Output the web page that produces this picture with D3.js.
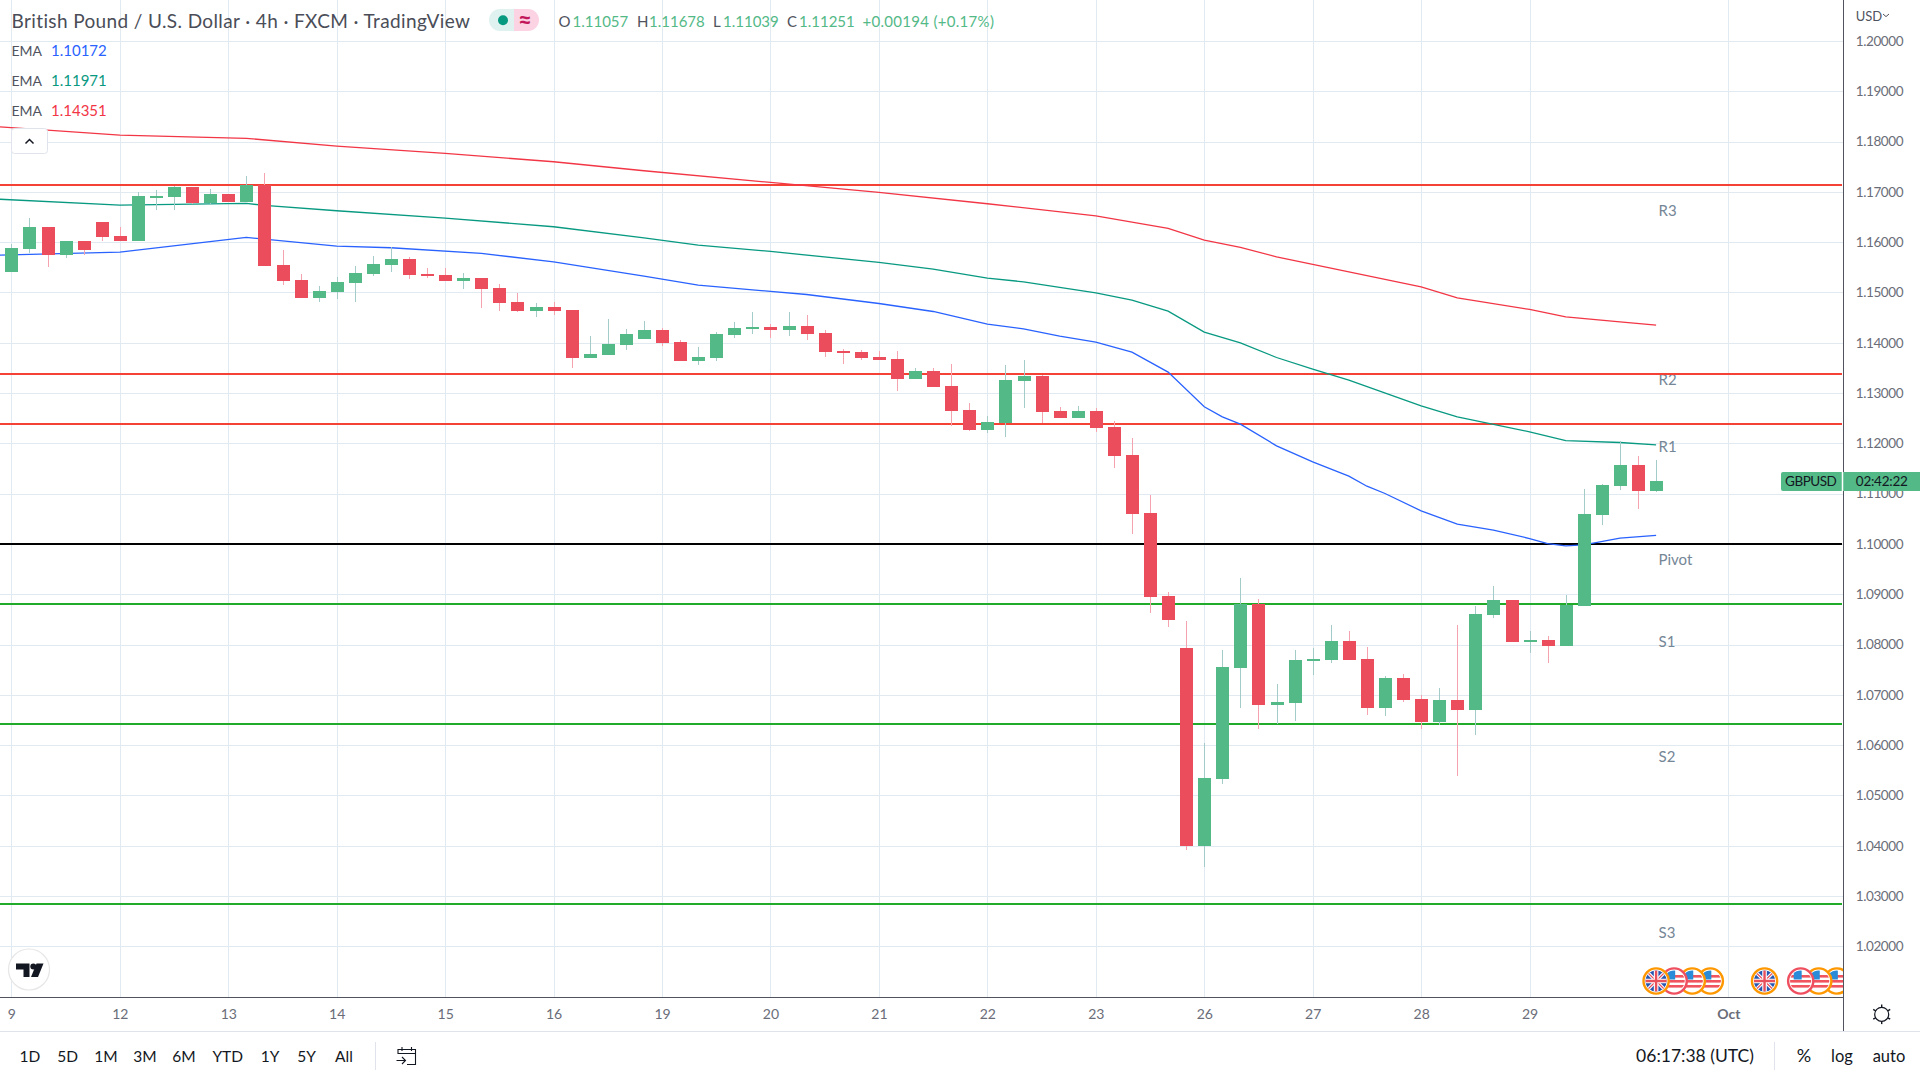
<!DOCTYPE html>
<html>
<head>
<meta charset="utf-8">
<script src="https://cdn.jsdelivr.net/npm/d3@7"></script>
<style>
	html, body { margin: 0; padding: 0; background: #fff; }
	svg { display: block; font-family: Lato, "Open Sans", sans-serif; }
</style>
</head>
<body>
<svg id="chart" width="1920" height="1080"></svg>
<script>
// candles
const opens = [1.15412,1.15869,1.16300,1.15743,1.16022,1.16399,1.16121,1.16022,1.16897,1.16897,
	1.17096,1.16777,1.16956,1.16797,1.17135,1.15544,1.15246,1.14888,1.15007,1.15186,
	1.15365,1.15544,1.15663,1.15365,1.15345,1.15226,1.15286,1.15087,1.14808,1.14629,
	1.14709,1.14649,1.13695,1.13754,1.13953,1.14073,1.14252,1.14013,1.13635,1.13695,
	1.14152,1.14272,1.14312,1.14252,1.14331,1.14192,1.13834,1.13814,1.13715,1.13675,
	1.13277,1.13436,1.13138,1.12661,1.12263,1.12402,1.13238,1.13337,1.12641,1.12502,
	1.12641,1.12322,1.11765,1.10611,1.08961,1.07926,1.03988,1.05321,1.07528,1.08801,
	1.06793,1.06832,1.07668,1.07688,1.08066,1.07707,1.06733,1.07330,1.06912,1.06454,
	1.06892,1.06693,1.08583,1.08881,1.08046,1.08085,1.07966,1.08762,1.10572,1.11148,
	1.11566,1.11057];
const highs = [1.15955,1.16479,1.16300,1.16022,1.16022,1.16399,1.16300,1.16996,1.17036,1.17115,
	1.17096,1.17056,1.16956,1.17314,1.17374,1.15842,1.15365,1.15126,1.15305,1.15524,
	1.15723,1.15896,1.15703,1.15484,1.15484,1.15385,1.15286,1.15166,1.14987,1.14788,
	1.14808,1.14649,1.14132,1.14470,1.14272,1.14431,1.14292,1.14053,1.13914,1.14212,
	1.14411,1.14610,1.14371,1.14610,1.14550,1.14252,1.13874,1.13854,1.13834,1.13834,
	1.13496,1.13496,1.13576,1.12800,1.12541,1.13556,1.13655,1.13357,1.12720,1.12740,
	1.12700,1.12441,1.12103,1.10969,1.09040,1.08463,1.06043,1.07886,1.09319,1.08901,
	1.07210,1.07886,1.07926,1.08384,1.08264,1.07946,1.07369,1.07409,1.06991,1.07131,
	1.08384,1.08762,1.09159,1.08881,1.08264,1.08165,1.08980,1.11089,1.11188,1.12044,
	1.11745,1.11678];
const lows = [1.15412,1.15776,1.15511,1.15690,1.15743,1.16022,1.16022,1.16022,1.16638,1.16638,
	1.16757,1.16757,1.16797,1.16797,1.15524,1.15146,1.14888,1.14808,1.14868,1.14808,
	1.15325,1.15405,1.15266,1.15286,1.15226,1.15067,1.14689,1.14629,1.14609,1.14510,
	1.14550,1.13496,1.13695,1.13754,1.13854,1.14073,1.13934,1.13635,1.13556,1.13635,
	1.14093,1.14172,1.14093,1.14133,1.14053,1.13715,1.13576,1.13655,1.13655,1.13039,
	1.13277,1.13118,1.12342,1.12243,1.12203,1.12124,1.12700,1.12402,1.12502,1.12502,
	1.12223,1.11506,1.10194,1.08622,1.08344,1.03908,1.03570,1.05221,1.06733,1.06315,
	1.06415,1.06474,1.07389,1.07628,1.07688,1.06594,1.06574,1.06852,1.06315,1.06395,
	1.05380,1.06196,1.08523,1.08046,1.07827,1.07628,1.07966,1.08762,1.10373,1.11069,
	1.10691,1.11039];
const closes = [1.15882,1.16300,1.15743,1.16022,1.15842,1.16101,1.16022,1.16917,1.16917,1.17096,
	1.16777,1.16956,1.16797,1.17135,1.15524,1.15226,1.14888,1.15027,1.15206,1.15385,
	1.15564,1.15663,1.15345,1.15325,1.15226,1.15286,1.15067,1.14788,1.14629,1.14709,
	1.14629,1.13695,1.13774,1.13973,1.14172,1.14252,1.13993,1.13635,1.13715,1.14172,
	1.14292,1.14312,1.14252,1.14331,1.14172,1.13814,1.13794,1.13695,1.13655,1.13277,
	1.13436,1.13118,1.12641,1.12263,1.12422,1.13257,1.13337,1.12621,1.12502,1.12641,
	1.12303,1.11745,1.10592,1.08941,1.08483,1.03988,1.05341,1.07548,1.08801,1.06793,
	1.06852,1.07688,1.07707,1.08066,1.07688,1.06733,1.07330,1.06892,1.06454,1.06892,
	1.06693,1.08603,1.08881,1.08046,1.08085,1.07966,1.08782,1.10592,1.11168,1.11566,
	1.11049,1.11251];

// EMA lines: [bar index, price]
const emaFast = [[-1,1.15740],[6,1.15803],[13,1.16094],[18,1.15922],[21,1.15889],[26,1.15776],[30,1.15610],[35,1.15325],
	[38,1.15146],[42,1.15020],[44,1.14960],[48,1.14781],[51,1.14622],[54,1.14370],[56,1.14277],[58,1.14132],[60,1.14012],
	[62,1.13813],[64,1.13416],[66,1.12726],[67,1.12527],[68,1.12381],[70,1.11951],[72,1.11632],[74,1.11347],[75,1.11148],
	[76,1.11003],[78,1.10658],[80,1.10393],[82,1.10273],[84,1.10108],[85,1.10008],[86,1.09962],[87,1.09982],[89,1.10114],[91,1.10172]];
const emaMid = [[-1,1.16860],[6,1.16738],[13,1.16771],[14,1.16731],[18,1.16625],[24,1.16479],[30,1.16307],[35,1.16085],
	[38,1.15942],[42,1.15816],[48,1.15597],[51,1.15464],[54,1.15285],[56,1.15212],[60,1.14994],[62,1.14848],[64,1.14629],
	[66,1.14211],[68,1.13999],[70,1.13707],[72,1.13475],[74,1.13256],[78,1.12746],[80,1.12527],[84,1.12229],[86,1.12056],
	[89,1.12017],[91,1.11971]];
const emaSlow = [[-1,1.18300],[6,1.18130],[13,1.18064],[18,1.17911],[24,1.17765],[30,1.17599],[35,1.17420],[42,1.17188],
	[48,1.16989],[54,1.16764],[60,1.16525],[64,1.16273],[66,1.16041],[68,1.15895],[70,1.15710],[72,1.15557],[78,1.15113],
	[80,1.14894],[84,1.14662],[86,1.14516],[89,1.14417],[91,1.14351]];
const emaLabels = ["1.10172", "1.11971", "1.14351"];

// pivot levels
const pivotNames = ["R3", "R2", "R1", "Pivot", "S1", "S2", "S3"];
const pivotPrices = [1.17137, 1.13377, 1.12384, 1.09995, 1.08802, 1.06415, 1.02835];
const pivotLabelPrices = [1.16620, 1.13270, 1.11930, 1.09680, 1.08050, 1.05770, 1.02260];

// axes
const priceTicks = [1.02,1.03,1.04,1.05,1.06,1.07,1.08,1.09,1.10,1.11,1.12,1.13,1.14,1.15,1.16,1.17,1.18,1.19,1.20];
const dayBars = [0,6,12,18,24,30,36,42,48,54,60,66,72,78,84,95];
const dayLabels = ["9","12","13","14","15","16","19","20","21","22","23","26","27","28","29","Oct"];

// economic events along the bottom
const eventBars = [91, 92, 93, 94, 97, 99, 100, 101];
const eventFlags = ["uk", "us", "us", "us", "uk", "us", "us", "us"];
const eventRims = ["#ff9800", "#ef5060", "#ff9800", "#ff9800", "#ff9800", "#ef5060", "#ff9800", "#ff9800"];

const ranges = ["1D", "5D", "1M", "3M", "6M", "YTD", "1Y", "5Y", "All"];
const rangeX = [30, 67.7, 106, 145, 184, 227.7, 270, 306.7, 344];

const plotRight = 1843;
const plotBottom = 997;
const green = "#53b987";
const red = "#eb4d5c";
const emaColors = ["#2962ff", "#089981", "#f23645"];
const textGrey = "#6a6d78";
const gridColor = "#e1eaf0";

const x = d3.scaleLinear().domain([0, 95]).range([11.4, 1728.4]);
const y = d3.scaleLinear().domain([1.02, 1.20]).range([946.3, 41]);

const svg = d3.select("#chart");
const defs = svg.append("defs");
defs.append("clipPath").attr("id", "plot-clip")
	.append("rect").attr("width", plotRight).attr("height", plotBottom);

// grid
const grid = svg.append("g").attr("shape-rendering", "crispEdges");
grid.append("g")
	.call(d3.axisRight(y).tickValues(priceTicks).tickSize(plotRight).tickFormat(""))
	.call(g => g.select(".domain").remove())
	.call(g => g.selectAll("line").attr("stroke", gridColor));
grid.append("g")
	.attr("transform", `translate(0,${plotBottom})`)
	.call(d3.axisTop(x).tickValues(dayBars).tickSize(plotBottom).tickFormat(""))
	.call(g => g.select(".domain").remove())
	.call(g => g.selectAll("line").attr("stroke", gridColor));

const plot = svg.append("g").attr("clip-path", "url(#plot-clip)");

// pivot labels sit under their lines
plot.append("g").selectAll("text")
	.data(pivotNames)
	.join("text")
	.attr("x", 1658.5)
	.attr("y", (d, i) => y(pivotLabelPrices[i]))
	.attr("dy", "0.35em")
	.attr("font-size", 15)
	.attr("fill", "#758696")
	.text(d => d);

plot.append("g").attr("shape-rendering", "crispEdges").selectAll("line")
	.data(pivotPrices)
	.join("line")
	.attr("x1", 0)
	.attr("x2", 1842)
	.attr("y1", d => y(d))
	.attr("y2", d => y(d))
	.attr("stroke-width", 2)
	.attr("stroke", (d, i) => (i < 3 ? "#f44336" : i === 3 ? "#000" : "#22ab2a"));

const emaLine = d3.line().x(d => x(d[0])).y(d => y(d[1]));
plot.append("g").selectAll("path")
	.data([emaSlow, emaMid, emaFast])
	.join("path")
	.attr("d", emaLine)
	.attr("fill", "none")
	.attr("stroke-width", 1.3)
	.attr("stroke", (d, i) => emaColors[2 - i]);

// candles
const candles = plot.append("g").attr("shape-rendering", "crispEdges")
	.selectAll("g")
	.data(opens)
	.join("g");
candles.append("line")
	.attr("x1", (d, i) => Math.round(x(i)) + 0.5)
	.attr("x2", (d, i) => Math.round(x(i)) + 0.5)
	.attr("y1", (d, i) => y(highs[i]))
	.attr("y2", (d, i) => y(lows[i]))
	.attr("stroke", (d, i) => (closes[i] >= opens[i] ? "#a3cbc7" : "#f5a3ae"));
candles.append("rect")
	.attr("x", (d, i) => Math.round(x(i)) - 6)
	.attr("width", 13)
	.attr("y", (d, i) => Math.round(y(Math.max(opens[i], closes[i]))))
	.attr("height", (d, i) => Math.max(2, Math.round(Math.abs(y(opens[i]) - y(closes[i])))))
	.attr("fill", (d, i) => (closes[i] >= opens[i] ? green : red));

// event badges, earlier ones lie on top
const flagR = 10.6;
defs.append("clipPath").attr("id", "flag-clip")
	.append("circle").attr("r", flagR);
const eventOrder = d3.range(eventBars.length).reverse();
const badges = plot.append("g").selectAll("g")
	.data(eventOrder)
	.join("g")
	.attr("transform", d => `translate(${x(eventBars[d])},981)`);
badges.append("circle")
	.attr("r", 12.6)
	.attr("fill", "#fff")
	.attr("stroke-width", 2.4)
	.attr("stroke", d => eventRims[d]);
const flagBody = badges.append("g").attr("clip-path", "url(#flag-clip)");
flagBody.filter(d => eventFlags[d] === "us").each(function() {
	const g = d3.select(this);
	g.append("rect").attr("x", -11).attr("y", -11).attr("width", 22).attr("height", 22).attr("fill", "#fff");
	[-6, -1, 4].forEach(top => {
		g.append("rect").attr("x", -11).attr("y", top).attr("width", 22).attr("height", 2.6).attr("fill", "#f0555f");
	});
	g.append("rect").attr("x", -7).attr("y", -11).attr("width", 8).attr("height", 9.5).attr("fill", "#2a8bd8");
});
flagBody.filter(d => eventFlags[d] === "uk").each(function() {
	const g = d3.select(this);
	g.append("rect").attr("x", -11).attr("y", -11).attr("width", 22).attr("height", 22).attr("fill", "#2657b0");
	g.append("path").attr("d", "M-11,-11L11,11M11,-11L-11,11").attr("stroke", "#fff").attr("stroke-width", 3.4);
	g.append("path").attr("d", "M-11,-11L11,11M11,-11L-11,11").attr("stroke", "#e8505b").attr("stroke-width", 1.2);
	g.append("path").attr("d", "M0,-11V11M-11,0H11").attr("stroke", "#fff").attr("stroke-width", 4.6);
	g.append("path").attr("d", "M0,-11V11M-11,0H11").attr("stroke", "#e8505b").attr("stroke-width", 2.4);
});

// price axis
svg.append("g")
	.attr("transform", "translate(1855.7,0)")
	.call(d3.axisRight(y).tickValues(priceTicks).tickSize(0).tickPadding(0).tickFormat(d3.format(".5f")))
	.call(g => g.select(".domain").remove())
	.call(g => g.selectAll("text")
		.attr("font-family", "Lato")
		.attr("font-size", 13.5)
		.attr("letter-spacing", -0.38)
		.attr("fill", textGrey));

// time axis
svg.append("g")
	.attr("transform", `translate(0,${plotBottom})`)
	.call(d3.axisBottom(x).tickValues(dayBars).tickSize(0).tickPadding(12).tickFormat((d, i) => dayLabels[i]))
	.call(g => g.select(".domain").remove())
	.call(g => g.selectAll("text")
		.attr("font-family", "Lato")
		.attr("font-size", 14)
		.attr("fill", textGrey)
		.attr("font-weight", (d, i) => (dayLabels[i] === "Oct" ? 700 : 400)));

// frame
const frame = svg.append("g").attr("shape-rendering", "crispEdges");
frame.append("line").attr("x1", 0).attr("x2", 1920).attr("y1", 1031.5).attr("y2", 1031.5).attr("stroke", "#e0e3eb");
frame.append("line").attr("x1", 0).attr("x2", plotRight).attr("y1", 997.5).attr("y2", 997.5).attr("stroke", "#50535e");
frame.append("line").attr("x1", 1843.5).attr("x2", 1843.5).attr("y1", 0).attr("y2", 1031).attr("stroke", "#50535e");

// last price tag
const tag = svg.append("g");
const tagY = y(closes[closes.length - 1]);
tag.append("path")
	.attr("d", `M1783,${tagY - 9}H1920V${tagY + 10}H1783a2,2 0 0 1 -2,-2V${tagY - 7}a2,2 0 0 1 2,-2Z`)
	.attr("fill", green);
tag.append("line").attr("x1", 1842.5).attr("x2", 1842.5).attr("y1", tagY - 9).attr("y2", tagY + 10).attr("stroke", "#fff").attr("stroke-width", 1.5);
tag.append("text").attr("x", 1810.7).attr("y", tagY).attr("dy", "0.38em").attr("text-anchor", "middle").attr("font-size", 13.5).attr("letter-spacing", -0.5).attr("fill", "#131722").text("GBPUSD");
tag.append("text").attr("x", 1881.7).attr("y", tagY).attr("dy", "0.38em").attr("text-anchor", "middle").attr("font-size", 13.5).attr("letter-spacing", -0.25).attr("fill", "#131722").text("02:42:22");

// currency switch
svg.append("text").attr("x", 1855.7).attr("y", 16).attr("dy", "0.36em").attr("font-size", 13).attr("fill", "#50535e").text("USD");
svg.append("path").attr("d", "M1883,14l3,2.6l3,-2.6").attr("fill", "none").attr("stroke", "#50535e").attr("stroke-width", 1);

// title row
svg.append("text").attr("x", 11.5).attr("y", 21).attr("dy", "0.36em").attr("font-size", 19).attr("letter-spacing", 0.38).attr("fill", "#4a4d57")
	.text("British Pound / U.S. Dollar · 4h · FXCM · TradingView");

const chip = svg.append("g");
chip.append("path").attr("d", "M514,9H500a11,11 0 0 0 0,22H514Z").attr("fill", "#dff2ef");
chip.append("path").attr("d", "M514,9H528a11,11 0 0 1 0,22H514Z").attr("fill", "#fbd3e3");
chip.append("circle").attr("cx", 503).attr("cy", 20.3).attr("r", 5).attr("fill", "#089981");
chip.append("text").attr("x", 525).attr("y", 20).attr("dy", "0.36em").attr("text-anchor", "middle").attr("font-size", 24).attr("font-weight", 700).attr("fill", "#c2185b").text("≈");

const ohlcNames = ["O", "H", "L", "C"];
const ohlcValues = ["1.11057", "1.11678", "1.11039", "1.11251"];
const ohlcNameX = [558.6, 637, 713, 787];
const ohlcValueX = [572.5, 649, 723, 799];
svg.append("g").selectAll("text").data(ohlcNames).join("text")
	.attr("x", (d, i) => ohlcNameX[i]).attr("y", 21.7).attr("dy", "0.36em").attr("font-size", 15).attr("fill", "#50535e").text(d => d);
svg.append("g").selectAll("text").data(ohlcValues).join("text")
	.attr("x", (d, i) => ohlcValueX[i]).attr("y", 21.7).attr("dy", "0.36em").attr("font-size", 15).attr("fill", green).text(d => d);
svg.append("text").attr("x", 862.5).attr("y", 21.7).attr("dy", "0.36em").attr("font-size", 15).attr("letter-spacing", 0.3).attr("fill", green).text("+0.00194 (+0.17%)");

// indicator legend
const legendY = [51, 81, 111];
svg.append("g").selectAll("text").data(emaLabels).join("text")
	.attr("x", 11.5).attr("y", (d, i) => legendY[i]).attr("dy", "0.36em").attr("font-size", 14).attr("fill", "#50535e").text("EMA");
svg.append("g").selectAll("text").data(emaLabels).join("text")
	.attr("x", 51).attr("y", (d, i) => legendY[i]).attr("dy", "0.36em").attr("font-size", 15).attr("fill", (d, i) => emaColors[i]).text(d => d);
svg.append("rect").attr("x", 11.5).attr("y", 128.5).attr("width", 36).attr("height", 25).attr("rx", 3).attr("fill", "#fff").attr("stroke", "#e0e3eb");
svg.append("path").attr("d", "M25.5,143.5l4,-4l4,4").attr("fill", "none").attr("stroke", "#131722").attr("stroke-width", 1.5);

// logo
const logo = svg.append("g");
logo.append("circle").attr("cx", 29).attr("cy", 969.5).attr("r", 20.5).attr("fill", "#fff").attr("stroke", "#e6e6e6").attr("stroke-width", 1.2);
logo.append("path").attr("d", "M16,963.5H29.5V977H23.5V969.5H16Z").attr("fill", "#131722");
logo.append("circle").attr("cx", 33.3).attr("cy", 966.6).attr("r", 3).attr("fill", "#131722");
logo.append("path").attr("d", "M43.5,963.5L38,977H31L36.5,963.5Z").attr("fill", "#131722");

// bottom toolbar
const toolbar = svg.append("g").attr("fill", "#131722");
toolbar.selectAll("text").data(ranges).join("text")
	.attr("x", (d, i) => rangeX[i]).attr("y", 1056).attr("dy", "0.36em").attr("text-anchor", "middle").attr("font-size", 15.5).text(d => d);
frame.append("line").attr("x1", 375.5).attr("x2", 375.5).attr("y1", 1042).attr("y2", 1070).attr("stroke", "#e0e3eb");
frame.append("line").attr("x1", 1774.5).attr("x2", 1774.5).attr("y1", 1042).attr("y2", 1070).attr("stroke", "#e0e3eb");
svg.append("path")
	.attr("d", "M398,1054V1049.5H415.5V1064.5H407M398,1053.5H415.5M402,1047V1051M411.5,1047V1051M396.5,1060.5H405M402,1057l3.5,3.5l-3.5,3.5")
	.attr("fill", "none").attr("stroke", "#131722").attr("stroke-width", 1.1);
const statusLabels = ["06:17:38 (UTC)", "%", "log", "auto"];
const statusX = [1695, 1804, 1842, 1889];
toolbar.append("g").selectAll("text").data(statusLabels).join("text")
	.attr("x", (d, i) => statusX[i]).attr("y", 1056).attr("dy", "0.36em").attr("text-anchor", "middle")
	.attr("font-size", (d, i) => (i === 1 ? 18 : i === 0 ? 17.5 : 16.5)).text(d => d);

// settings gear
const gear = svg.append("g").attr("transform", "translate(1881.7,1014.3)").attr("stroke", "#131722").attr("fill", "none");
gear.append("circle").attr("r", 7).attr("stroke-width", 1.2);
gear.selectAll("line").data(d3.range(6)).join("line")
	.attr("x1", d => 7 * Math.cos(d * Math.PI / 3 + Math.PI / 6))
	.attr("y1", d => 7 * Math.sin(d * Math.PI / 3 + Math.PI / 6))
	.attr("x2", d => 9.8 * Math.cos(d * Math.PI / 3 + Math.PI / 6))
	.attr("y2", d => 9.8 * Math.sin(d * Math.PI / 3 + Math.PI / 6))
	.attr("stroke-width", 1.4);
</script>
</body>
</html>
